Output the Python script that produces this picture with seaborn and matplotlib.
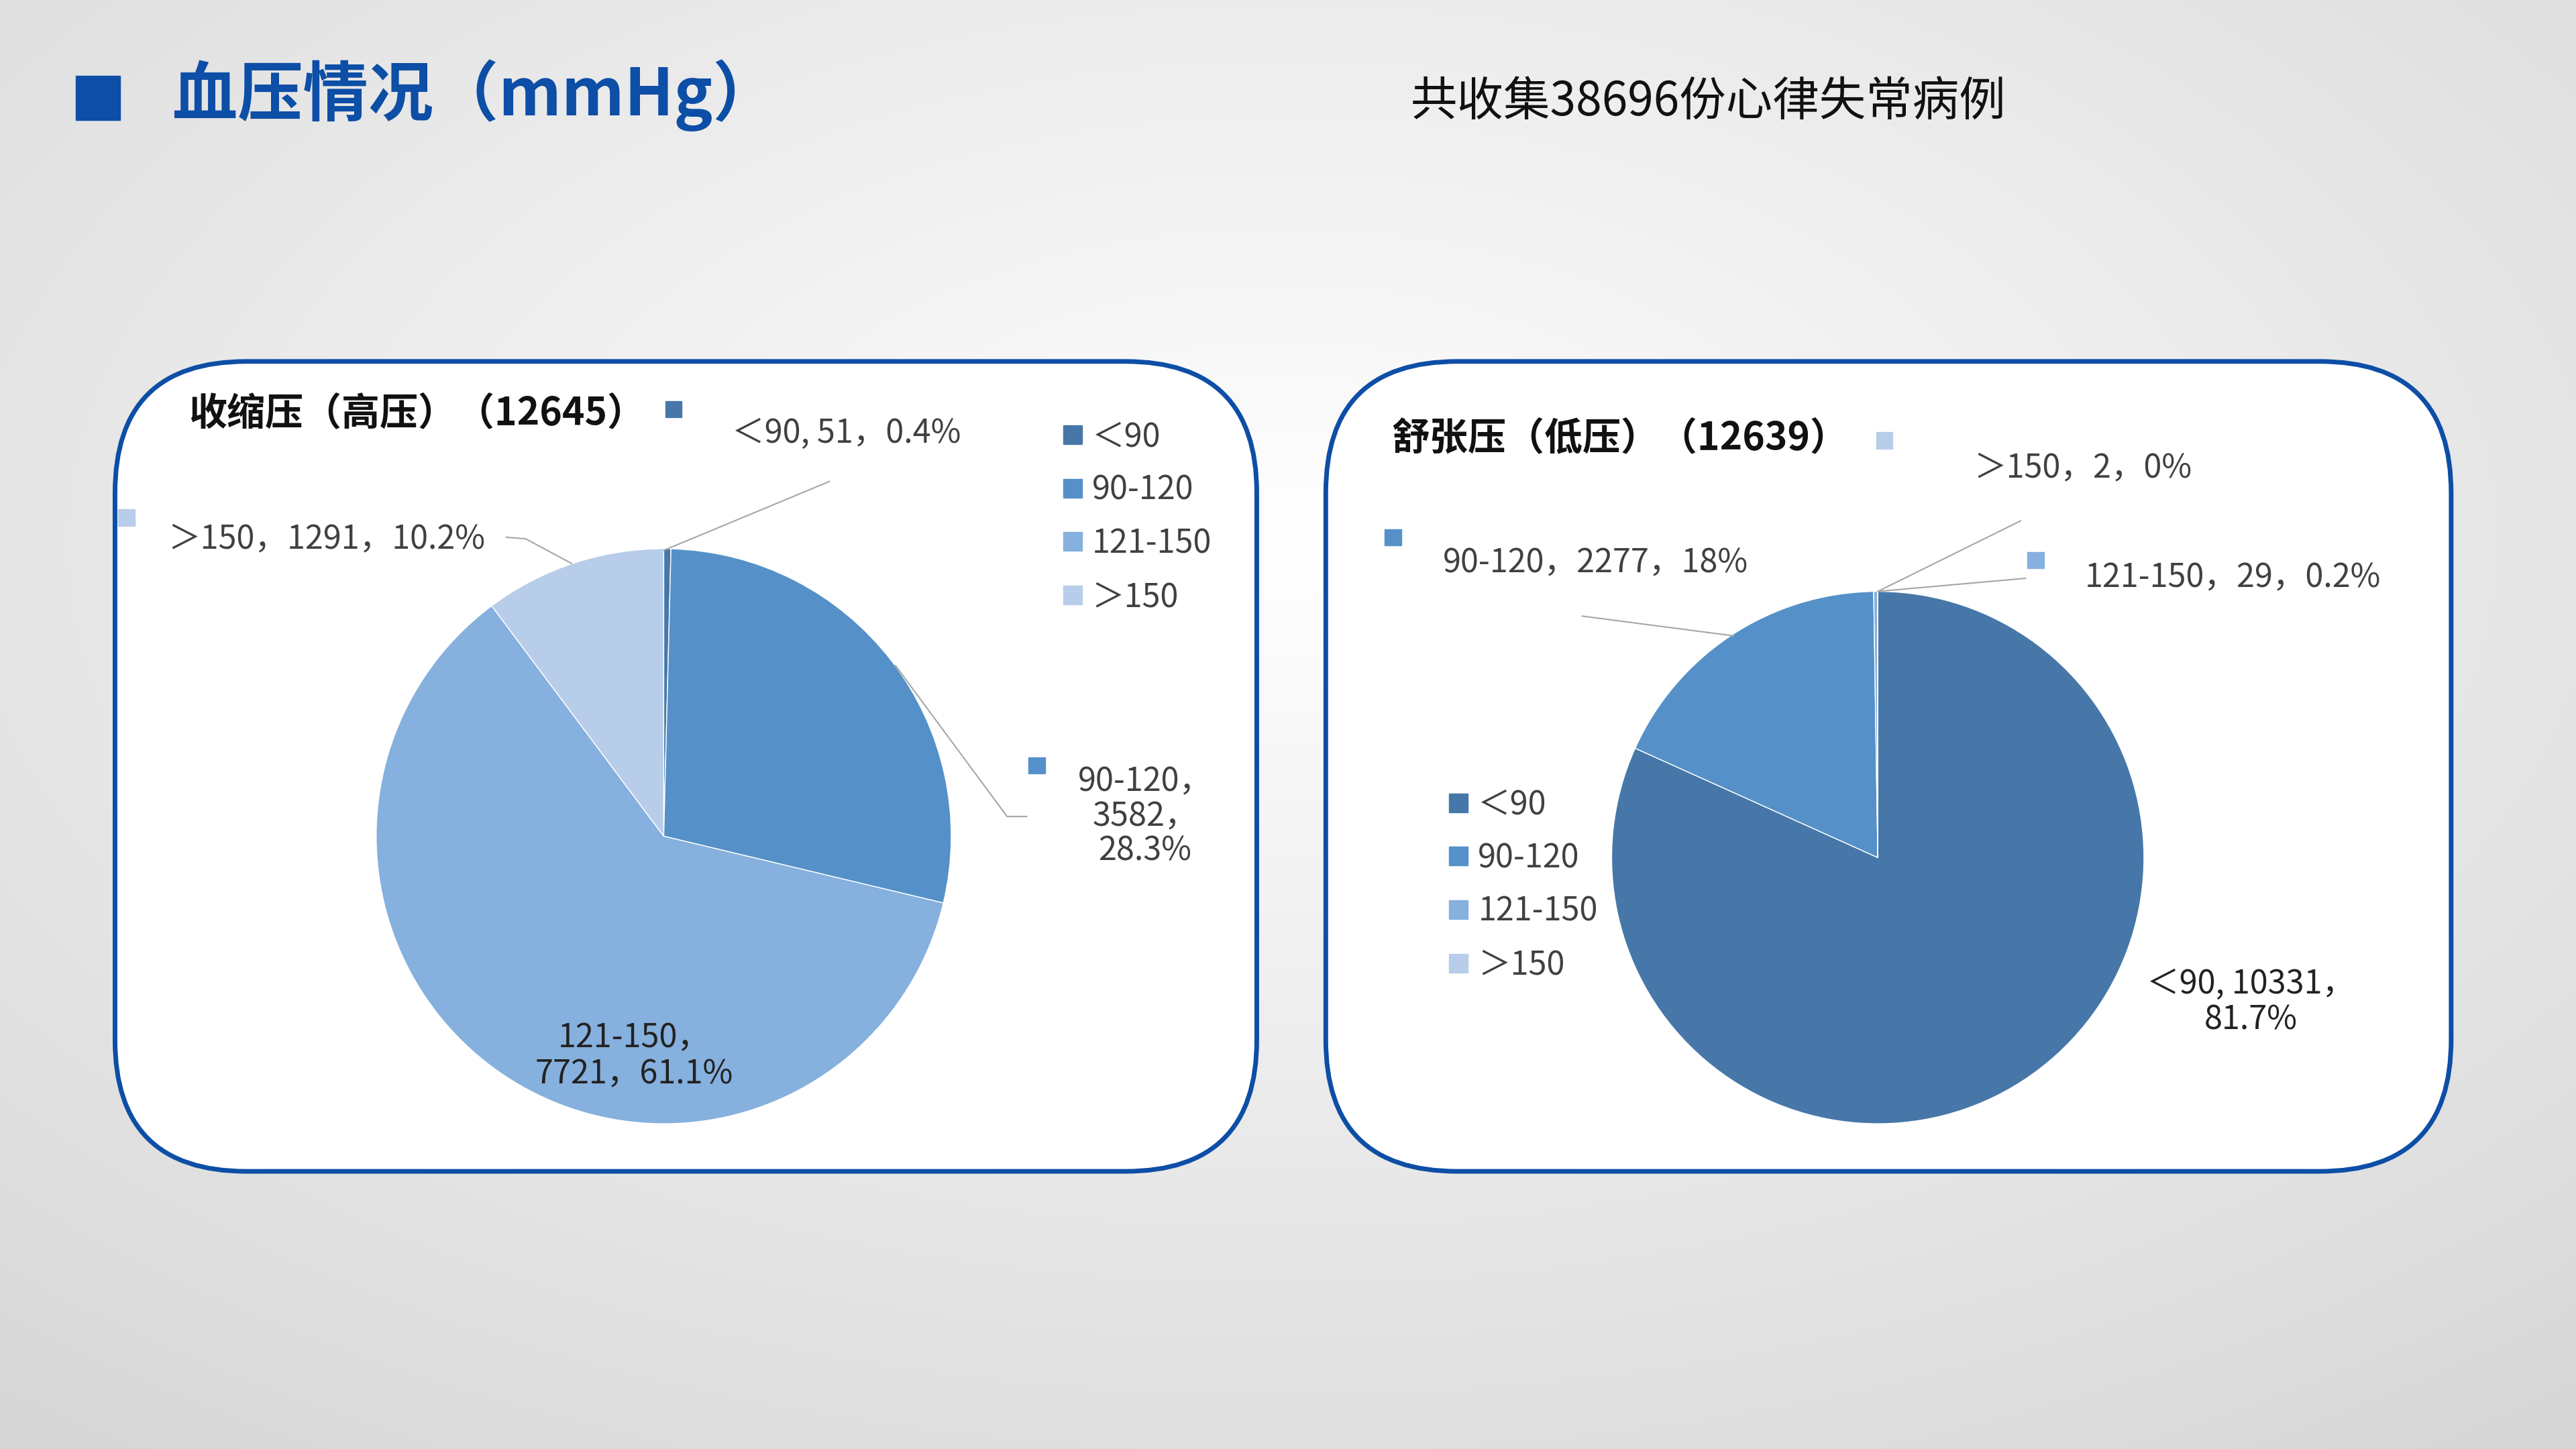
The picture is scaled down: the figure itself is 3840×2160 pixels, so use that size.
import numpy as np
import matplotlib
matplotlib.use("Agg")
import matplotlib.pyplot as plt
import seaborn as sns
from matplotlib.patches import FancyBboxPatch, Rectangle
from matplotlib.lines import Line2D

sns.set_theme(style="white")
plt.rcParams['font.family'] = ['Noto Sans CJK SC', 'DejaVu Sans']

categories = ["＜90", "90-120", "121-150", "＞150"]
sys_values = [51, 3582, 7721, 1291]
dia_values = [10331, 2277, 29, 2]
colors = ["#4677a8", "#5591c8", "#86b0dd", "#b8cde9"]
sys_labels = ["＜90, 51，0.4%", "90-120，\n3582，\n28.3%", "121-150，\n7721，61.1%", "＞150，1291，10.2%"]
dia_labels = ["＜90, 10331，\n81.7%", "90-120，2277，18%", "121-150，29，0.2%", "＞150，2，0%"]

W, H = 1568, 882
fig = plt.figure(figsize=(38.4, 21.6), dpi=100)

# background
bg = fig.add_axes([0, 0, 1, 1], zorder=0)
yy, xx = np.mgrid[0:H, 0:W]
r = np.sqrt(((xx - 780) / W) ** 2 + ((yy - 330) / H) ** 2)
g = np.clip(1 - 0.2 * r, 0, 1)
bg.imshow(np.dstack([g, g, g]), extent=[0, W, H, 0], aspect='auto')
bg.set_xlim(0, W); bg.set_ylim(H, 0); bg.axis('off')
for x0, x1 in [(70, 765), (807, 1492)]:
    bg.add_patch(FancyBboxPatch((x0 + 80, 220 + 80), x1 - x0 - 160, 493 - 160,
                                boxstyle="round,pad=80", fc='white', ec='#0d4ea6', lw=5))

def pie_axes(cx, cy, rad):
    return fig.add_axes([(cx - rad) / W, 1 - (cy + rad) / H, 2 * rad / W, 2 * rad / H], zorder=2)

wp = dict(edgecolor='white', linewidth=1)
ax1 = pie_axes(404, 509, 175)
ax1.pie(sys_values, colors=colors, startangle=90, counterclock=False, wedgeprops=wp)
ax1.set_xlim(-1, 1); ax1.set_ylim(-1, 1)
ax2 = pie_axes(1143, 522, 162)
ax2.pie(dia_values, colors=colors, startangle=90, counterclock=False, wedgeprops=wp)
ax2.set_xlim(-1, 1); ax2.set_ylim(-1, 1)

handles = [Line2D([], [], marker='s', ls='', color=c, markersize=20) for c in colors]
for ax, (lx, ly) in [(ax1, (625, 238)), (ax2, (860, 462))]:
    ax.legend(handles, categories, loc='upper left', bbox_to_anchor=(lx / W, 1 - ly / H),
              bbox_transform=fig.transFigure, frameon=False, fontsize=35, labelcolor='#404040',
              handletextpad=0.1, labelspacing=0.62, handlelength=1)

ov = fig.add_axes([0, 0, 1, 1], zorder=5)
ov.set_xlim(0, W); ov.set_ylim(H, 0); ov.axis('off'); ov.patch.set_alpha(0)

ov.add_patch(Rectangle((46, 46), 27, 27, color='#0d4ea6'))
ov.text(105, 58, "血压情况（mmHg）", fontsize=70, fontweight='bold', color='#0d4ea6', va='center')
ov.text(1040, 62, "共收集38696份心律失常病例", fontsize=50, color='#111111', va='center', ha='center')
ov.text(115, 252, "收缩压（高压）（12645）", fontsize=41, fontweight='bold', color='#111111', va='center')
ov.text(847, 267, "舒张压（低压）（12639）", fontsize=41, fontweight='bold', color='#111111', va='center')

tc = '#404040'; lc = '#a6a6a6'
fs = 35
# systolic labels
ov.text(515, 264, sys_labels[0], fontsize=fs, color=tc, ha='center', va='center')
ov.plot([505, 404], [293, 335], color=lc, lw=1.5)
ov.text(697, 497, sys_labels[1], fontsize=fs, color=tc, ha='center', va='center', linespacing=1.05)
ov.plot([625, 613, 545], [497, 497, 405], color=lc, lw=1.5)
ov.text(386, 643, sys_labels[2], fontsize=fs, color='#222222', ha='center', va='center', linespacing=1.1)
ov.text(199, 328, sys_labels[3], fontsize=fs, color=tc, ha='center', va='center')
ov.plot([308, 320, 348], [327, 328, 343], color=lc, lw=1.5)
# diastolic labels
ov.text(1370, 610, dia_labels[0], fontsize=fs, color='#222222', ha='center', va='center', linespacing=1.1)
ov.text(971, 343, dia_labels[1], fontsize=fs, color=tc, ha='center', va='center')
ov.plot([963, 1055], [375, 387], color=lc, lw=1.5)
ov.text(1359, 352, dia_labels[2], fontsize=fs, color=tc, ha='center', va='center')
ov.plot([1233, 1143], [352, 360], color=lc, lw=1.5)
ov.text(1268, 285, dia_labels[3], fontsize=fs, color=tc, ha='center', va='center')
ov.plot([1230, 1143], [317, 360], color=lc, lw=1.5)
# label key squares
for (x, y), c in [((410, 249), colors[0]), ((631, 466), colors[1]), ((77, 315), colors[3]),
                  ((848, 327), colors[1]), ((1239, 341), colors[2]), ((1147, 268), colors[3])]:
    ov.add_patch(Rectangle((x - 5, y - 5), 10, 10, color=c))

fig.savefig("out.png", dpi=100)
